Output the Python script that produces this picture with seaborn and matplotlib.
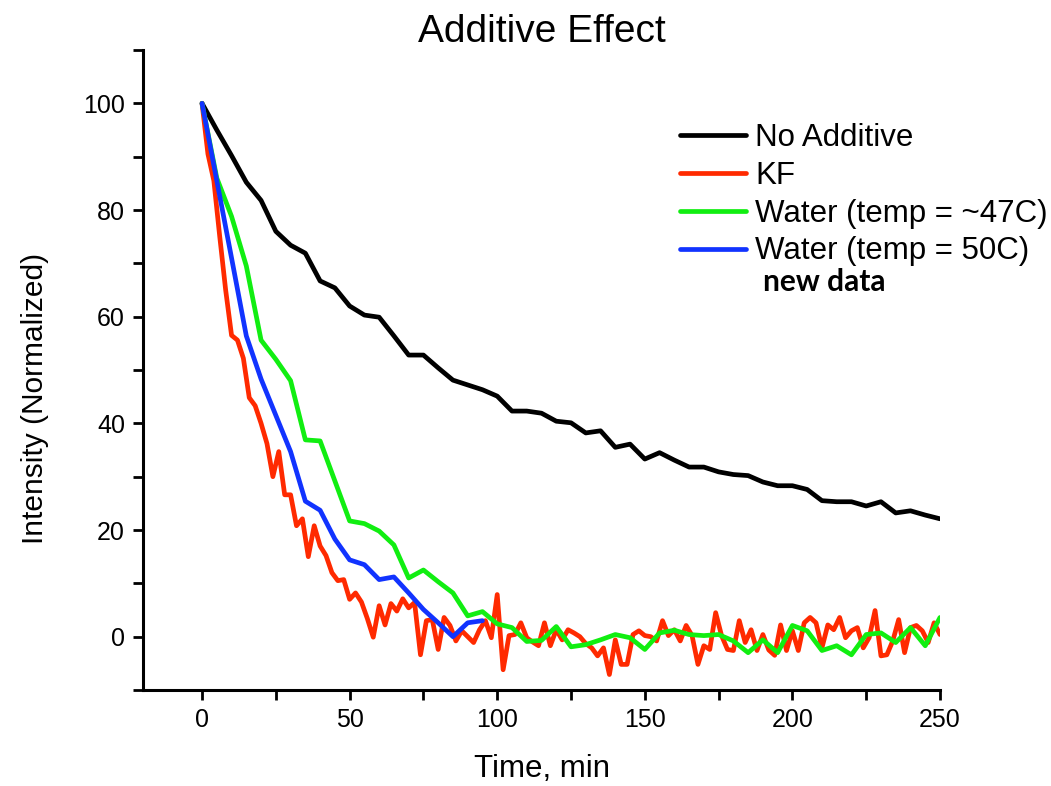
import numpy as np
import pandas as pd
import matplotlib
matplotlib.use("Agg")
import matplotlib.pyplot as plt
import seaborn as sns
from matplotlib.ticker import MultipleLocator

# ---------------- data ----------------
time_black = list(range(0, 251, 5))
no_additive = [100, 95, 90.2, 85.2, 81.8, 76.0, 73.4, 71.9, 66.7, 65.4,
               62.0, 60.3, 59.9, 56.4, 52.8, 52.8, 50.4, 48.1, 47.2, 46.3,
               45.1, 42.3, 42.3, 41.9, 40.4, 40.1, 38.2, 38.6, 35.5, 36.1,
               33.3, 34.5, 33.1, 31.8, 31.8, 30.9, 30.4, 30.2, 29.0, 28.3,
               28.3, 27.6, 25.5, 25.3, 25.3, 24.5, 25.3, 23.2, 23.6, 22.8,
               22.1]

time_kf = list(range(0, 251, 2))
kf = [100, 90.5, 85.5, 75, 65, 56.5, 55.6, 52.2, 44.8, 43.3,
      40, 36.2, 30.0, 34.7, 26.6, 26.6, 20.8, 22.1, 15.0, 20.8,
      17.0, 15.2, 12.0, 10.5, 10.7, 7.0, 8.2, 6.5, 3.4, -0.1,
      5.8, 2.2, 6.2, 4.8, 7.1, 5.4, 6.4, -3.4, 3.0, 3.2,
      -2.4, 3.6, 2.1, -0.8, 1.1, 0.0, -1.1, 1.3, 3.0, -0.2,
      7.9, -6.2, 0.2, 0.4, 2.6, -0.2, -1.0, -1.7, 2.6, -1.7,
      1.3, -0.6, 1.3, 0.7, 0.0, -1.3, -2.1, -3.6, -2.1, -7.1,
      -0.6, -5.2, -5.2, 0.4, 1.1, 0.2, 0.0, -0.8, 3.0, 0.2,
      1.3, -0.8, 2.1, 0.2, -5.2, -1.7, -2.4, 4.5, 0.2, -2.4,
      -2.6, 3.0, -1.1, 1.3, -2.6, 0.4, -2.5, -3.5, 2.2, -2.6,
      1.1, -2.6, 2.6, 3.6, 2.6, -2.1, 2.2, 1.3, 3.6, -0.2,
      1.1, 1.7, -2.1, -0.2, 4.9, -3.6, -3.4, -0.8, 3.2, -3.0,
      1.7, 2.1, 1.1, -1.1, 2.6, 0.4]

time_green = list(range(0, 251, 5))
water_47 = [100, 86, 78.8, 69.5, 55.6, 52, 48, 36.9, 36.7, 29.2,
            21.7, 21.2, 19.8, 17.2, 11.0, 12.5, 10.3, 8.2, 3.9, 4.7,
            2.4, 1.7, -0.9, -0.7, 1.9, -1.9, -1.5, -0.6, 0.4, -0.2,
            -2.4, 0.7, 1.2, 0.4, 0.2, 0.4, -0.8, -3.0, -0.6, -3.0,
            2.1, 1.1, -2.6, -1.7, -3.4, 0.4, 0.7, -1.1, 1.7, -1.7,
            3.6]

time_blue = list(range(0, 96, 5))
water_50 = [100, 85.5, 71, 56.4, 48.3, 41.5, 34.7, 25.4, 23.7, 18.3,
            14.4, 13.5, 10.7, 11.2, 8.2, 5.1, 2.6, 0.0, 2.6, 3.0]

labels = ["No Additive", "KF", "Water (temp = ~47C)", "Water (temp = 50C)"]
colors = ["#000000", "#ff2a00", "#11ee11", "#1133ff"]
x_ticks = [0, 50, 100, 150, 200, 250]
y_ticks = [0, 20, 40, 60, 80, 100]

df = pd.concat([
    pd.DataFrame({"t": time_black, "v": no_additive, "s": labels[0]}),
    pd.DataFrame({"t": time_kf, "v": kf, "s": labels[1]}),
    pd.DataFrame({"t": time_green, "v": water_47, "s": labels[2]}),
    pd.DataFrame({"t": time_blue, "v": water_50, "s": labels[3]}),
], ignore_index=True)

# ---------------- plot ----------------
sns.set_theme(style="white")
plt.rcParams["font.family"] = ["Liberation Sans", "DejaVu Sans"]
plt.rcParams["text.color"] = "black"
plt.rcParams["axes.labelcolor"] = "black"
plt.rcParams["xtick.color"] = "black"
plt.rcParams["ytick.color"] = "black"

fig = plt.figure(figsize=(10.51, 7.86), dpi=100)
ax = fig.add_axes([143 / 1051, 1 - 690 / 786, (940 - 143) / 1051, (690 - 50) / 786])

sns.lineplot(data=df, x="t", y="v", hue="s", hue_order=labels,
             palette=dict(zip(labels, colors)), estimator=None, sort=False,
             linewidth=3.4, ax=ax)

ax.set_xlim(-20, 250)
ax.set_ylim(-10, 110)
ax.xaxis.set_minor_locator(MultipleLocator(25))
ax.yaxis.set_minor_locator(MultipleLocator(10))
ax.set_xticks(x_ticks)
ax.set_yticks(y_ticks)

for s in ["top", "right"]:
    ax.spines[s].set_visible(False)
for s in ["left", "bottom"]:
    ax.spines[s].set_linewidth(2.2)
    ax.spines[s].set_color("black")

ax.tick_params(which="both", direction="out", length=7, width=2, color="black",
               left=True, bottom=True)
ax.tick_params(which="major", labelsize=18, pad=6, labelcolor="black")

ax.set_xlabel("Time, min", fontsize=22.5, labelpad=16)
ax.set_ylabel("")
fig.text(35 / 1051, 1 - 398 / 786, "Intensity (Normalized)", fontsize=21.5,
         rotation=90, ha="center", va="center")
ax.set_title("Additive Effect", fontsize=28, pad=5)

handles, lbls = ax.get_legend_handles_labels()
leg = ax.legend(handles, lbls, loc="upper left",
                bbox_to_anchor=(680 / 1051, 1 - 123 / 786),
                bbox_transform=fig.transFigure, frameon=False,
                fontsize=22.5, handlelength=2.1, handletextpad=0.3,
                labelspacing=0.25, borderpad=0, borderaxespad=0)
for h in leg.get_lines():
    h.set_linewidth(3.4)

fig.text(763 / 1051, 1 - 282 / 786, "new data", fontsize=21.5,
         family=["Lato", "DejaVu Sans"], fontweight="bold", va="center", ha="left")

fig.savefig("out.png", dpi=100, facecolor="white")
